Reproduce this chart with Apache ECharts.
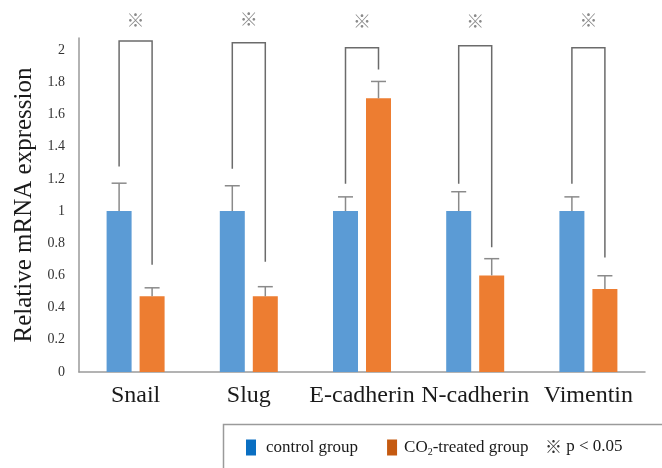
<!DOCTYPE html>
<html>
<head>
<meta charset="utf-8">
<script src="https://cdn.jsdelivr.net/npm/echarts@6/dist/echarts.min.js"></script>
<style>html,body{margin:0;padding:0;background:#fff}#c{width:662px;height:468px}</style>
</head>
<body>
<div id="c"></div>
<script>
const categories = ['Snail', 'Slug', 'E-cadherin', 'N-cadherin', 'Vimentin'];
const controlValues = [1.0, 1.0, 1.0, 1.0, 1.0];
const treatedValues = [0.47, 0.47, 1.70, 0.60, 0.515];
const controlErrTop = [1.173, 1.157, 1.088, 1.12, 1.088];
const treatedErrTop = [0.523, 0.53, 1.805, 0.704, 0.598];
const bracketTop = [2.056, 2.046, 2.014, 2.027, 2.014];
const bracketLeftEnd = [1.277, 1.263, 1.169, 1.169, 1.169];
const bracketRightEnd = [0.667, 0.685, 1.88, 0.775, 0.712];
const starLevel = [2.186, 2.19, 2.18, 2.18, 2.186];
const yTickLabels = ['0', '0.2', '0.4', '0.6', '0.8', '1', '1.2', '1.4', '1.6', '1.8', '2'];
const seriesNames = ['control group', 'CO2-treated group'];
const sigMark = '※';
const sigText = ' p < 0.05';

const SERIF = "'Liberation Serif', 'Times New Roman', serif";
const BAR_W = 25, BAR_GAP = 8;
const HALF = (BAR_W + BAR_GAP) / 2;

function errSeries(values, tops, sign) {
  return {
    type: 'custom',
    silent: true,
    z: 5,
    data: categories.map((c, i) => [i, values[i], tops[i]]),
    renderItem: function (params, api) {
      const base = api.coord([api.value(0), api.value(1)]);
      const top = api.coord([api.value(0), api.value(2)]);
      const x = base[0] + sign * HALF;
      const capW = 7.5;
      return {
        type: 'group',
        children: [
          { type: 'line', shape: { x1: x, y1: base[1], x2: x, y2: top[1] }, style: { stroke: '#8a8a8a', lineWidth: 1.5 } },
          { type: 'line', shape: { x1: x - capW, y1: top[1], x2: x + capW, y2: top[1] }, style: { stroke: '#8a8a8a', lineWidth: 1.5 } }
        ]
      };
    }
  };
}

const chart = echarts.init(document.getElementById('c'), null, { renderer: 'canvas' });
chart.setOption({
  animation: false,
  backgroundColor: '#ffffff',
  grid: { left: 79, right: 17, top: 38, bottom: 96 },
  xAxis: {
    type: 'category',
    data: categories,
    axisLine: { lineStyle: { color: '#9a9a9a', width: 1.5 } },
    axisTick: { show: false },
    axisLabel: { interval: 0, fontFamily: SERIF, fontSize: 24, color: '#1a1a1a', margin: 12 }
  },
  yAxis: {
    type: 'value',
    min: 0,
    max: 2.075,
    interval: 0.2,
    name: 'Relative mRNA expression',
    nameLocation: 'middle',
    nameGap: 42,
    nameTextStyle: { fontFamily: SERIF, fontSize: 25, color: '#1a1a1a' },
    axisLine: { show: true, lineStyle: { color: '#9a9a9a', width: 1.5 } },
    axisTick: { show: false },
    splitLine: { show: false },
    axisLabel: {
      fontFamily: SERIF, fontSize: 14, color: '#333', margin: 14,
      formatter: function (v) {
        const k = Math.round(v / 0.2);
        if (Math.abs(v / 0.2 - k) > 1e-6 || k >= yTickLabels.length) return '';
        return yTickLabels[k];
      }
    }
  },
  legend: {
    left: 241,
    top: 434,
    itemWidth: 10,
    itemHeight: 16,
    itemGap: 29,
    icon: 'rect',
    data: [
      { name: seriesNames[0], icon: 'rect', itemStyle: { color: '#0a6fc2' } },
      { name: seriesNames[1], icon: 'rect', itemStyle: { color: '#c55a11' } }
    ],
    formatter: function (name) {
      if (name === seriesNames[0]) return '{t|' + name + '}';
      return '{f|CO}{s|2}{u|-treated group}';
    },
    textStyle: {
      fontFamily: SERIF, fontSize: 17, color: '#1a1a1a',
      rich: {
        t: { fontFamily: SERIF, fontSize: 17, color: '#1a1a1a', padding: [0, 0, 0, 5], lineHeight: 20 },
        f: { fontFamily: SERIF, fontSize: 17, color: '#1a1a1a', padding: [0, 0, 0, 2], lineHeight: 20 },
        u: { fontFamily: SERIF, fontSize: 17, color: '#1a1a1a', lineHeight: 20 },
        s: { fontFamily: SERIF, fontSize: 10, color: '#1a1a1a', verticalAlign: 'bottom', lineHeight: 14 }
      }
    }
  },
  graphic: [
    { type: 'rect', left: 221, top: 422, shape: { width: 480, height: 80 }, style: { fill: 'none', stroke: '#9a9a9a', lineWidth: 1.5 }, z: 1 },
    {
      type: 'text', left: 545, top: 438, z: 2,
      style: {
        text: '{m|' + sigMark + '}{p|' + sigText + '}',
        rich: {
          m: { fontFamily: "'Noto Sans CJK JP', sans-serif", fontSize: 17, fill: '#333', lineHeight: 20 },
          p: { fontFamily: SERIF, fontSize: 17, fill: '#1a1a1a', lineHeight: 20 }
        }
      }
    }
  ],
  series: [
    { name: seriesNames[0], type: 'bar', data: controlValues, barWidth: BAR_W, barGap: (BAR_GAP / BAR_W * 100) + '%', itemStyle: { color: '#5b9bd5' } },
    { name: seriesNames[1], type: 'bar', data: treatedValues, barWidth: BAR_W, itemStyle: { color: '#ed7d31' } },
    errSeries(controlValues, controlErrTop, -1),
    errSeries(treatedValues, treatedErrTop, 1),
    {
      type: 'custom',
      silent: true,
      z: 6,
      data: categories.map((c, i) => [i, bracketLeftEnd[i], bracketRightEnd[i], bracketTop[i], starLevel[i]]),
      renderItem: function (params, api) {
        const i = api.value(0);
        const cx = api.coord([i, 0])[0];
        const yl = api.coord([i, api.value(1)])[1];
        const yr = api.coord([i, api.value(2)])[1];
        const yt = api.coord([i, api.value(3)])[1];
        const ys = api.coord([i, api.value(4)])[1];
        const lx = cx - HALF, rx = cx + HALF;
        return {
          type: 'group',
          children: [
            { type: 'polyline', shape: { points: [[lx, yl], [lx, yt], [rx, yt], [rx, yr]] }, style: { fill: 'none', stroke: '#6b6b6b', lineWidth: 1.5 } },
            { type: 'text', x: cx, y: ys, style: { text: sigMark, fill: '#8a8a8a', font: "18px 'Noto Sans CJK JP', sans-serif", align: 'center', verticalAlign: 'middle' } }
          ]
        };
      }
    }
  ]
});
</script>
</body>
</html>
